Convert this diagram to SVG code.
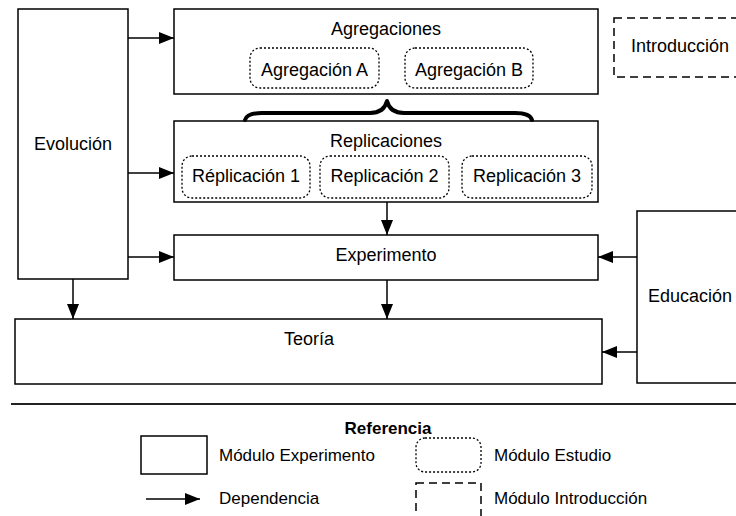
<svg xmlns="http://www.w3.org/2000/svg" width="736" height="516" viewBox="0 0 736 516">
<defs>
<marker id="arr" markerUnits="userSpaceOnUse" markerWidth="15" markerHeight="12" refX="15" refY="6" orient="auto">
<path d="M0,0 L15,6 L0,12 Z" fill="#000"/>
</marker>
<style>
.box{fill:#fff;stroke:#000;stroke-width:1.5}
.study{fill:#fff;stroke:#000;stroke-width:1.3;stroke-dasharray:2 2}
.intro{fill:#fff;stroke:#000;stroke-width:1.5;stroke-dasharray:8 5}
.t{font-family:"Liberation Sans",Arial,sans-serif;font-size:18px;fill:#000}
.lt{font-family:"Liberation Sans",Arial,sans-serif;font-size:17px;fill:#000}
.c{text-anchor:middle}
.edge{stroke:#000;stroke-width:1.5;fill:none;marker-end:url(#arr)}
</style>
</defs>
<rect width="736" height="516" fill="#fff"/>

<g id="evolucion">
<rect class="box" x="18" y="9" width="110" height="270"/>
<text class="t c" x="73" y="150">Evolución</text>
</g>

<g id="agregaciones">
<rect class="box" x="174" y="9" width="424" height="85"/>
<text class="t c" x="386" y="35">Agregaciones</text>
<g id="agregacionA">
<rect class="study" x="250" y="48" width="129" height="40" rx="10"/>
<text class="t c" x="314.5" y="76">Agregación A</text>
</g>
<g id="agregacionB">
<rect class="study" x="405" y="48" width="128" height="40" rx="10"/>
<text class="t c" x="469" y="76">Agregación B</text>
</g>
</g>

<g id="replicaciones">
<rect class="box" x="174" y="121" width="424" height="81"/>
<text class="t c" x="386" y="147">Replicaciones</text>
<g id="replicacion1">
<rect class="study" x="182" y="156" width="128" height="42" rx="10"/>
<text class="t c" x="246" y="182">Réplicación 1</text>
</g>
<g id="replicacion2">
<rect class="study" x="320" y="156" width="129" height="42" rx="10"/>
<text class="t c" x="384.5" y="182">Replicación 2</text>
</g>
<g id="replicacion3">
<rect class="study" x="462" y="156" width="130" height="42" rx="10"/>
<text class="t c" x="527" y="182">Replicación 3</text>
</g>
</g>

<g id="experimento">
<rect class="box" x="174" y="235" width="424" height="45"/>
<text class="t c" x="386" y="261">Experimento</text>
</g>

<g id="teoria">
<rect class="box" x="15" y="319" width="587" height="65"/>
<text class="t c" x="309" y="345">Teoría</text>
</g>

<g id="educacion">
<rect class="box" x="637" y="211" width="112" height="172"/>
<text class="t" x="648" y="302">Educación</text>
</g>

<g id="introduccion">
<rect class="intro" x="614" y="18" width="132" height="59"/>
<text class="t" x="631" y="52">Introducción</text>
</g>

<g id="connectors">
<line class="edge" x1="128" y1="38" x2="174" y2="38"/>
<line class="edge" x1="128" y1="173" x2="174" y2="173"/>
<line class="edge" x1="128" y1="257" x2="174" y2="257"/>
<line class="edge" x1="73" y1="279" x2="73" y2="319"/>
<line class="edge" x1="387" y1="202" x2="387" y2="235"/>
<line class="edge" x1="387" y1="280" x2="387" y2="319"/>
<line class="edge" x1="637" y1="257" x2="598" y2="257"/>
<line class="edge" x1="637" y1="352" x2="602" y2="352"/>
<path d="M245,120 Q247,113 262,113 L370,113 Q384,113 387,101 Q390,113 404,113 L515,113 Q530,113 532,120" fill="none" stroke="#000" stroke-width="4" stroke-linecap="round" stroke-linejoin="round"/>
</g>

<g id="legend">
<line x1="11" y1="404" x2="736" y2="404" stroke="#222" stroke-width="2"/>
<text class="lt c" x="388" y="434" font-weight="bold">Referencia</text>
<rect class="box" x="141" y="436" width="66" height="38"/>
<text class="lt" x="219" y="461">Módulo Experimento</text>
<rect class="study" x="416" y="438" width="65" height="34" rx="9"/>
<text class="lt" x="494" y="461">Módulo Estudio</text>
<line class="edge" x1="146" y1="499" x2="200" y2="499"/>
<text class="lt" x="219" y="504">Dependencia</text>
<rect class="intro" x="416" y="483" width="65" height="40"/>
<text class="lt" x="494" y="504">Módulo Introducción</text>
</g>
</svg>
